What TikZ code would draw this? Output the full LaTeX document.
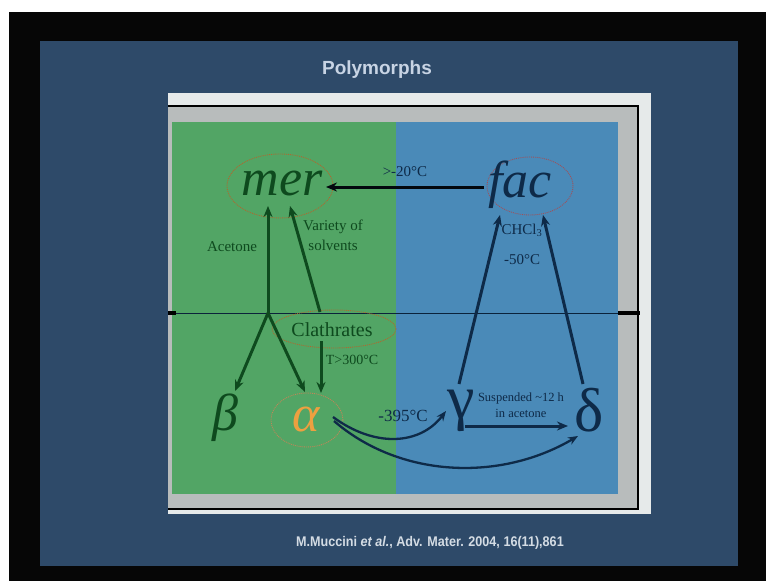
\documentclass[tikz,border=0pt]{standalone}
\usepackage{fontspec}
\setmainfont{Liberation Serif}
\newfontfamily\sansb{Liberation Sans}
\usetikzlibrary{arrows.meta,shapes.geometric}
\definecolor{bgblack}{HTML}{060606}
\definecolor{slide}{HTML}{2E4A69}
\definecolor{framec}{HTML}{E6EAEA}
\definecolor{panelgray}{HTML}{B8BCBC}
\definecolor{greenp}{HTML}{52A565}
\definecolor{bluep}{HTML}{4A8AB8}
\definecolor{dgreen}{HTML}{0E4A1E}
\definecolor{navy}{HTML}{0E2A48}
\definecolor{ringc}{HTML}{B0682E}
\definecolor{ringr}{HTML}{A0505A}
\definecolor{alphac}{HTML}{EDA040}
\definecolor{titlec}{HTML}{C8D4E4}
\definecolor{citec}{HTML}{D4DCE4}
\tikzset{
  arr/.style={line width=3pt, -{Stealth[length=11pt,width=9pt]}},
  curv/.style={line width=2.3pt, navy, -{Stealth[length=10pt,width=8pt]}},
  ring/.style={ellipse, densely dotted, line width=0.9pt, inner sep=0pt},
  lbl/.style={inner sep=0pt, font=\fontsize{15}{17}\selectfont},
  big/.style={inner sep=0pt, font=\itshape\fontsize{52}{52}\selectfont},
  greek/.style={inner sep=0pt, font=\fontsize{62}{62}\selectfont, text=navy}
}
\begin{document}
\begin{tikzpicture}[x=1pt,y=-1pt]
\useasboundingbox (0,0) rectangle (766,581);
\fill[white] (0,0) rectangle (766,581);
\fill[bgblack] (9,12) rectangle (766,581);
\fill[slide] (40,41) rectangle (738,566);
\fill[framec] (168,93) rectangle (651,514);
\fill[panelgray] (168,106) rectangle (638,509);
\draw[black, line width=2pt] (168,106) -- (638,106) -- (638,509) -- (168,509);
\fill[greenp] (172,122) rectangle (396,494);
\fill[bluep] (396,122) rectangle (618,494);
% horizontal divider
\draw[navy!80!black, line width=1pt] (172,313) -- (618,313);
\draw[black, line width=3.5pt] (168,313) -- (176,313);
\draw[black, line width=3.5pt] (618,313) -- (640,313);

% title and citation
\node[font=\sansb\bfseries\fontsize{19}{22}\selectfont, text=titlec] (title) at (377,70) {Polymorphs};
\node[font=\sansb\bfseries\fontsize{14}{16}\selectfont, text=citec] (cite) at (430,543)
  {\scalebox{0.9}[1]{M.Muccini \textit{et al.}, Adv. Mater. 2004, 16(11),861}};

% main nodes
\node[ring, draw=ringc, minimum width=106pt, minimum height=64pt] (merE) at (280,186) {};
\node[big, text=dgreen] (mer) at (282,183) {mer};
\node[ring, draw=ringr, minimum width=86pt, minimum height=58pt] (facE) at (530,186) {};
\node[big, text=navy] (fac) at (520,185) {fac};
\node[ring, draw=ringc, minimum width=124pt, minimum height=38pt] (clE) at (334,329) {};
\node[inner sep=0pt, font=\fontsize{20}{22}\selectfont, text=dgreen] (cl) at (332,330) {Clathrates};
\node[big, text=dgreen] (beta) at (225,418) {β};
\node[ring, draw=ringc!80!white, minimum width=72pt, minimum height=54pt] (alE) at (307,420) {};
\node[big, text=alphac] (alpha) at (306,419) {α};
\node[greek] (gamma) at (461,411) {γ};
\node[greek] (delta) at (589,410) {δ};

% connector points
\coordinate (j) at (268,313);
\coordinate (merA) at (268,206);
\coordinate (merB) at (290,206);
\coordinate (clT) at (320,312);
\coordinate (clB) at (321,341);
\coordinate (btop) at (235,391);
\coordinate (atopL) at (305,392);
\coordinate (atopR) at (321,393);
\coordinate (merR) at (326,187);
\coordinate (facL) at (484,187);
\coordinate (gTop) at (459,384);
\coordinate (dTop) at (583,384);
\coordinate (facBL) at (500,215);
\coordinate (facBR) at (543,215);
\coordinate (gR) at (465,426);
\coordinate (dL) at (568,426);
\coordinate (aR1) at (333,417);
\coordinate (aR2) at (334,421);
\coordinate (gL) at (446,411);
\coordinate (dB) at (578,436);

% arrows (green side)
\draw[arr, dgreen] (j) -- (merA);
\draw[arr, dgreen] (clT) -- (merB);
\draw[arr, dgreen] (j) -- (btop);
\draw[arr, dgreen] (j) -- (atopL);
\draw[arr, dgreen] (clB) -- (atopR);
% fac -> mer
\draw[arr, black!80!navy] (facL) -- (merR);
% blue side
\draw[arr, navy] (gTop) -- (facBL);
\draw[arr, navy] (dTop) -- (facBR);
\draw[arr, navy] (gR) -- (dL);
% curves from alpha
\draw[curv] (aR1) .. controls (375,448) and (420,445) .. (gL);
\draw[curv] (aR2) .. controls (400,478) and (500,482) .. (dB);

% labels
\node[lbl, text=navy] (l20) at (405,172) {>-20°C};
\node[lbl, text=dgreen] (lac) at (232,247) {Acetone};
\node[lbl, text=dgreen, align=center, font=\fontsize{15}{20}\selectfont] (lvar) at (333,235) {Variety of\\solvents};
\node[lbl, text=dgreen, font=\fontsize{14}{16}\selectfont] (lt) at (352,360) {T>300°C};
\node[lbl, text=navy] (lch) at (522,230) {CHCl\textsubscript{3}};
\node[lbl, text=navy] (l50) at (522,260) {-50°C};
\node[lbl, text=navy, font=\fontsize{17}{19}\selectfont] (l395) at (403,416) {-395°C};
\node[lbl, text=navy, align=center, font=\fontsize{12.5}{16}\selectfont] (lsus) at (521,405) {Suspended \textasciitilde12 h\\in acetone};
\end{tikzpicture}
\end{document}
